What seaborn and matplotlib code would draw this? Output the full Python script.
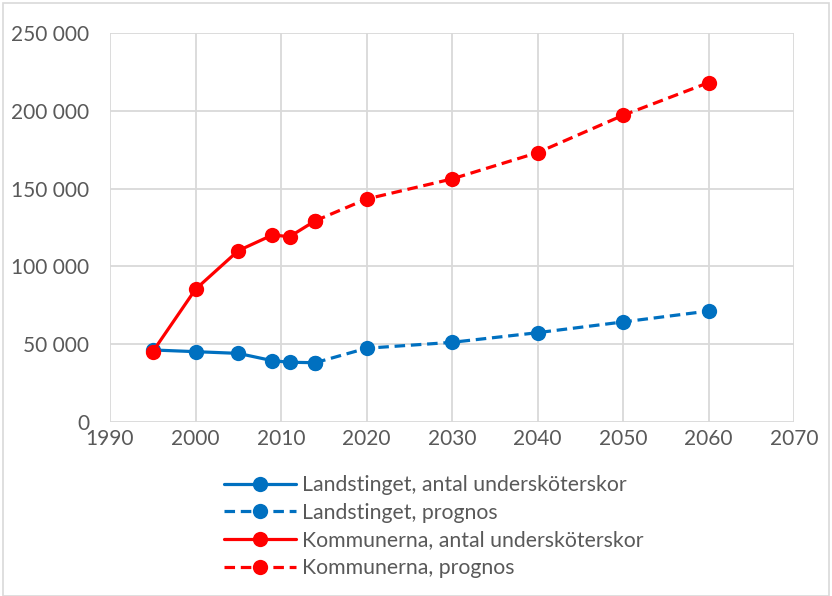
import matplotlib
matplotlib.use("Agg")
import matplotlib.pyplot as plt
import matplotlib.ticker as mticker
import seaborn as sns
import pandas as pd

## data
years_hist = [1995, 2000, 2005, 2009, 2011, 2014]
years_prog = [2014, 2020, 2030, 2040, 2050, 2060]

landsting_hist = [46300, 45200, 44100, 39400, 38400, 38100]
landsting_prog = [38100, 47400, 51200, 57400, 64300, 71300]
kommun_hist = [45200, 85300, 110100, 120200, 119100, 129300]
kommun_prog = [129300, 143300, 156200, 173100, 197100, 218100]

labels = ['Landstinget, antal undersköterskor',
          'Landstinget, prognos',
          'Kommunerna, antal undersköterskor',
          'Kommunerna, prognos']

x_ticks = list(range(1990, 2071, 10))
y_ticks = list(range(0, 250001, 50000))

BLUE = '#0070C0'
RED = '#FF0000'
TXT = '#595959'

sns.set_style('white')
plt.rcParams['font.family'] = ['Lato', 'DejaVu Sans']

fig = plt.figure(figsize=(8.32, 5.96), dpi=100)
ax = fig.add_axes([110/832, 1 - 422/596, (794 - 110)/832, (422 - 33)/596])

series = [
    (years_hist, landsting_hist, BLUE, '-'),
    (years_prog, landsting_prog, BLUE, '--'),
    (years_hist, kommun_hist, RED, '-'),
    (years_prog, kommun_prog, RED, '--'),
]
handles = []
for (xs, ys, col, ls), lab in zip(series, labels):
    df = pd.DataFrame({'year': xs, 'value': ys})
    sns.lineplot(data=df, x='year', y='value', ax=ax, color=col, linestyle=ls,
                 linewidth=2.3, marker='o', markersize=11, markeredgewidth=0,
                 label=lab, legend=False, zorder=3)
    ln = ax.lines[-1]
    if ls == '--':
        ln.set_dashes((3.3, 1.8))
    handles.append(ln)

ax.set_xlim(1990, 2070)
ax.set_ylim(0, 250000)
ax.set_xticks(x_ticks)
ax.set_yticks(y_ticks)
ax.yaxis.set_major_formatter(mticker.FuncFormatter(lambda v, p: f"{int(v):,}".replace(",", " ")))
ax.grid(True, color='#D9D9D9', linewidth=1.3)
for s in ax.spines.values():
    s.set_visible(False)
ax.tick_params(axis='both', length=0, labelsize=15, labelcolor=TXT)
ax.tick_params(axis='y', pad=15)
ax.tick_params(axis='x', pad=5)
ax.set_xlabel('')
ax.set_ylabel('')

leg = fig.legend(handles=handles, labels=labels, loc='upper left',
                 bbox_to_anchor=(224/832, 1 - 475/596), frameon=False,
                 fontsize=15.3, handlelength=3.4, handletextpad=0.28,
                 labelspacing=0.36, labelcolor=TXT, borderaxespad=0, borderpad=0)

# outer chart frame
fig.patches.append(plt.Rectangle((3/832, 0), 1 - 6/832, 1 - 3/596, transform=fig.transFigure,
                                 fill=False, edgecolor='#D9D9D9', linewidth=1.2))

fig.savefig('out.png', dpi=100)
